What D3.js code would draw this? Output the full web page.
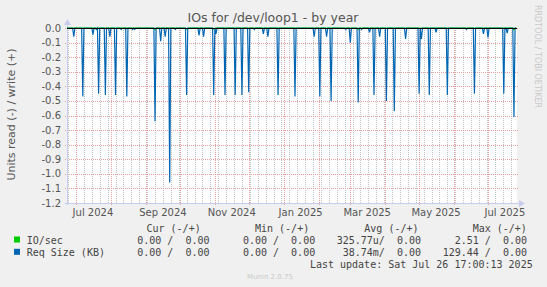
<!DOCTYPE html>
<html>
<head>
<meta charset="utf-8">
<script src="https://cdn.jsdelivr.net/npm/d3@7"></script>
<style>
  body { margin: 0; background: #f0f0f0; }
  text { font-family: "DejaVu Sans", sans-serif; }
  .mono { font-family: "DejaVu Sans Mono", monospace; font-size: 10px; fill: #444; white-space: pre; }
</style>
</head>
<body>
<div id="chart"></div>
<script>
// Req Size (KB), read side (drawn below zero), one value per day
const reqDates = ["2024-06-29","2024-07-07","2024-07-16","2024-07-19","2024-07-21","2024-07-27","2024-07-31",
  "2024-08-05","2024-08-10","2024-08-15","2024-08-20","2024-08-22","2024-09-09","2024-09-14","2024-09-18",
  "2024-09-22","2024-09-27","2024-10-07","2024-10-18","2024-10-22","2024-10-31","2024-11-02","2024-11-10",
  "2024-11-19","2024-11-25","2024-12-01","2024-12-06","2024-12-14","2024-12-18","2024-12-27","2025-01-11",
  "2025-01-28","2025-02-02","2025-02-08","2025-02-12","2025-02-25","2025-03-01","2025-03-08","2025-03-11",
  "2025-03-18","2025-03-22","2025-03-27","2025-04-02","2025-04-09","2025-04-19","2025-05-01","2025-05-03",
  "2025-05-10","2025-05-16","2025-05-26","2025-06-12","2025-06-19","2025-06-27","2025-07-01","2025-07-15",
  "2025-07-18","2025-07-24"];
const reqValues = [0.06,0.47,0.045,0.01,0.45,0.46,0.06,
  0.46,0.01,0.47,0.01,0.01,0.64,0.09,0.06,
  1.06,0.01,0.46,0.05,0.06,0.46,0.04,0.46,
  0.46,0.46,0.44,0.01,0.04,0.06,0.46,0.47,
  0.06,0.47,0.06,0.50,0.01,0.10,0.51,0.01,
  0.03,0.46,0.06,0.50,0.57,0.075,0.45,0.075,
  0.46,0.03,0.46,0.01,0.45,0.04,0.065,0.45,
  0.035,0.61];

// IO/sec, read side
const ioDates = ["2024-09-09","2024-10-07","2024-10-31","2025-03-08","2025-07-24"];
const ioValues = [0.012,0.01,0.01,0.012,0.015];

const xLabelMonths = ["2024-07","2024-09","2024-11","2025-01","2025-03","2025-05","2025-07"];
const yTicks = [0, -0.1, -0.2, -0.3, -0.4, -0.5, -0.6, -0.7, -0.8, -0.9, -1.0, -1.1, -1.2];

const W = 547, H = 287;
const pLeft = 67, pRight = 517, pTop = 28, pBottom = 203;
const tStart = new Date(2024, 5, 23), tEnd = new Date(2025, 6, 26, 17);

const x = d3.scaleTime().domain([tStart, tEnd]).range([pLeft, pRight]);
const y = d3.scaleLinear().domain([-1.2, 0]).range([pBottom, pTop]);

// daily series, zero where nothing was read
function daily(dates, values) {
  const m = new Map(dates.map((d, i) => [d, values[i]]));
  const fmt = d3.timeFormat("%Y-%m-%d");
  return d3.timeDay.range(d3.timeDay.ceil(tStart), tEnd).map(d => {
    return { date: d, value: m.get(fmt(d)) || 0 };
  });
}

const svg = d3.select('#chart').append('svg')
  .attr('width', W).attr('height', H);

svg.append('rect').attr('width', W).attr('height', H).attr('fill', '#f0f0f0');
svg.append('rect')
  .attr('x', pLeft).attr('y', pTop)
  .attr('width', pRight - pLeft).attr('height', pBottom - pTop)
  .attr('fill', '#fff');

// minor grid: weeks
const months = d3.timeMonth.range(d3.timeMonth.ceil(tStart), tEnd);
const monthKeys = new Set(months.map(d => +d));
svg.append('g').selectAll('line')
  .data(d3.timeMonday.range(tStart, tEnd).filter(d => !monthKeys.has(+d)))
  .join('line')
  .attr('x1', d => Math.round(x(d)) + 0.5).attr('x2', d => Math.round(x(d)) + 0.5)
  .attr('y1', pTop).attr('y2', pBottom)
  .attr('stroke', '#c4c4c4').attr('stroke-dasharray', '1,1');

// major grid: months and every 0.1
svg.append('g').selectAll('line')
  .data(months)
  .join('line')
  .attr('x1', d => Math.round(x(d)) + 0.5).attr('x2', d => Math.round(x(d)) + 0.5)
  .attr('y1', pTop).attr('y2', pBottom + 2)
  .attr('stroke', '#eaa0a0').attr('stroke-dasharray', '1,1');

svg.append('g').selectAll('line')
  .data(yTicks)
  .join('line')
  .attr('x1', pLeft - 2).attr('x2', pRight + 2)
  .attr('y1', d => Math.round(y(d)) + 0.5).attr('y2', d => Math.round(y(d)) + 0.5)
  .attr('stroke', '#eaa0a0').attr('stroke-dasharray', '1,1');

// y labels
svg.append('g').selectAll('text')
  .data(yTicks)
  .join('text')
  .attr('x', 61).attr('y', d => y(d) + 3.5)
  .attr('text-anchor', 'end')
  .attr('font-size', 10).attr('fill', '#555')
  .text(d => d === 0 ? '0.0' : d.toFixed(1));

// x labels, centred on the middle of the month
svg.append('g').selectAll('text')
  .data(xLabelMonths.map(d3.timeParse("%Y-%m")))
  .join('text')
  .attr('x', d => x(d3.timeDay.offset(d, 15)))
  .attr('y', 215.5)
  .attr('text-anchor', 'middle')
  .attr('font-size', 10).attr('fill', '#555')
  .text(d3.timeFormat("%b %Y"));

// axes with arrows
svg.append('line').attr('x1', pLeft + 0.5).attr('x2', pLeft + 0.5)
  .attr('y1', pBottom + 2).attr('y2', pTop - 3).attr('stroke', '#c8cdf0');
svg.append('line').attr('x1', pLeft - 2).attr('x2', pRight + 2)
  .attr('y1', pBottom + 0.5).attr('y2', pBottom + 0.5).attr('stroke', '#c8cdf0');
svg.append('path').attr('d', `M${pLeft - 3},${pTop - 3}L${pLeft + 4},${pTop - 3}L${pLeft + 0.5},${pTop - 9}Z`)
  .attr('fill', '#c8cdf0');
svg.append('path').attr('d', `M${pRight + 2},${pBottom - 3}L${pRight + 2},${pBottom + 4}L${pRight + 8},${pBottom + 0.5}Z`)
  .attr('fill', '#c8cdf0');

// series
const line = d3.line()
  .x(d => x(d.date))
  .y(d => y(-d.value));

svg.append('path')
  .datum(daily(reqDates, reqValues))
  .attr('fill', 'none')
  .attr('stroke', '#0066b3')
  .attr('stroke-width', 1.2)
  .attr('d', line);

svg.append('path')
  .datum(daily(ioDates, ioValues))
  .attr('fill', 'none')
  .attr('stroke', '#00cc00')
  .attr('stroke-width', 1)
  .attr('d', line);

// zero line
svg.append('line').attr('x1', pLeft).attr('x2', pRight)
  .attr('y1', y(0) + 0.5).attr('y2', y(0) + 0.5)
  .attr('stroke', '#000');

// title and side texts
svg.append('text').attr('x', 273).attr('y', 22)
  .attr('text-anchor', 'middle').attr('font-size', 12.5).attr('fill', '#555')
  .text('IOs for /dev/loop1 - by year');

svg.append('text')
  .attr('transform', `translate(15,${(pTop + pBottom) / 2 - 1}) rotate(-90)`)
  .attr('text-anchor', 'middle').attr('font-size', 11).attr('fill', '#555')
  .text('Units read (-) / write (+)');

svg.append('text')
  .attr('transform', 'translate(535,5) rotate(90)')
  .attr('font-size', 8).attr('fill', '#c8c8c8')
  .text('RRDTOOL / TOBI OETIKER');

// legend
const legendNames = ['IO/sec', 'Req Size (KB)'];
const legendColors = ['#00cc00', '#0066b3'];
const legendCur = ['0.00 /  0.00', '0.00 /  0.00'];
const legendMin = ['0.00 /  0.00', '0.00 /  0.00'];
const legendAvg = ['325.77u/  0.00', '38.74m/  0.00'];
const legendMax = ['2.51 /  0.00', '129.44 /  0.00'];
const headers = ['Cur (-/+)', 'Min (-/+)', 'Avg (-/+)', 'Max (-/+)'];
const headerX = [146.5, 255, 364.3, 472.7];
const colEnd = [209.5, 315.2, 421, 527];

svg.append('g').selectAll('text')
  .data(headers)
  .join('text')
  .attr('class', 'mono')
  .attr('x', (d, i) => headerX[i]).attr('y', 232)
  .text(d => d);

legendNames.forEach((name, i) => {
  const yy = 243.5 + i * 12.3;
  svg.append('rect')
    .attr('x', 14).attr('y', yy - 7).attr('width', 6).attr('height', 6)
    .attr('fill', legendColors[i]);
  svg.append('text').attr('class', 'mono').attr('x', 26.7).attr('y', yy).text(name);
  [legendCur, legendMin, legendAvg, legendMax].forEach((col, j) => {
    svg.append('text').attr('class', 'mono')
      .attr('x', colEnd[j]).attr('y', yy)
      .attr('text-anchor', 'end')
      .text(col[i]);
  });
});

svg.append('text').attr('class', 'mono')
  .attr('x', 532.7).attr('y', 268).attr('text-anchor', 'end')
  .text('Last update: Sat Jul 26 17:00:13 2025');

svg.append('text')
  .attr('x', 270).attr('y', 278.5)
  .attr('text-anchor', 'middle').attr('font-size', 7).attr('fill', '#c8c8c8')
  .text('Munin 2.0.75');
</script>
</body>
</html>
